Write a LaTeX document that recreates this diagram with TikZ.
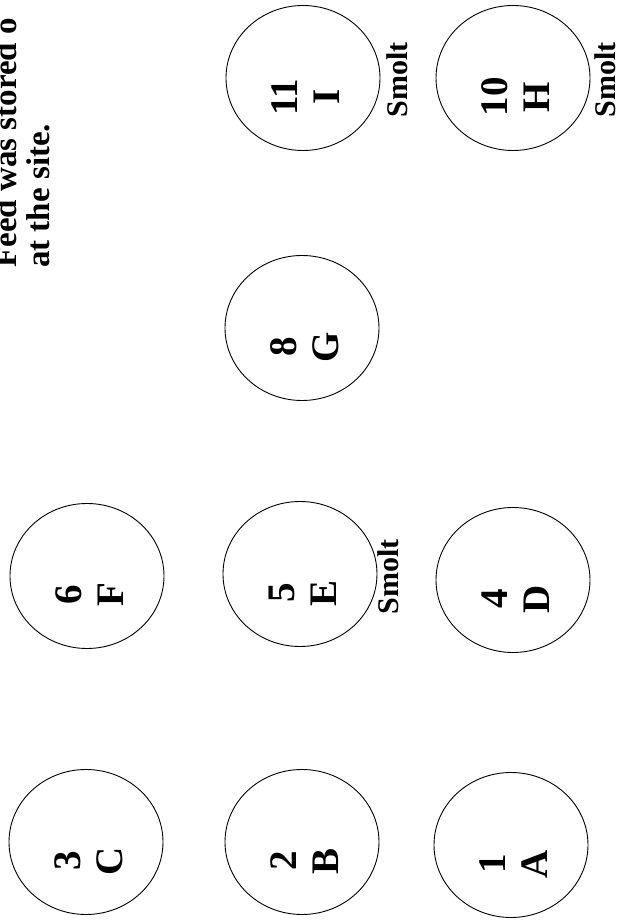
\documentclass[tikz,border=0pt]{standalone}
\usepackage{fontspec}
\setmainfont{Liberation Serif}
\usetikzlibrary{shapes.geometric}
\begin{document}
\begin{tikzpicture}[x=1pt,y=1pt,
  pond/.style={ellipse,draw,line width=0.9pt,minimum width=154pt,minimum height=145pt,inner sep=0pt},
  lbl/.style={rotate=90,font=\fontsize{39}{42}\selectfont\bfseries,align=center,inner sep=0pt},
  smolt/.style={rotate=90,font=\fontsize{30}{32}\selectfont\bfseries,inner sep=0pt},
  captxt/.style={rotate=90,anchor=base west,font=\fontsize{33}{33}\selectfont\bfseries,inner sep=0pt}]
\useasboundingbox (0,0) rectangle (623,922);
\clip (0,0) rectangle (623,922);
% ponds
\node[pond] (pC) at (86,80) {};
\node[pond] (pB) at (302,80) {};
\node[pond] (pA) at (511,77) {};
\node[pond] (pF) at (87,346) {};
\node[pond] (pE) at (300,348) {};
\node[pond] (pD) at (513,342) {};
\node[pond] (pG) at (302,594) {};
\node[pond] (pI) at (303,844) {};
\node[pond] (pH) at (513,844) {};
% labels
\node[lbl] (lC) at (89,61) {3\\C};
\node[lbl] (lB) at (305,61) {2\\B};
\node[lbl] (lA) at (514,58) {1\\A};
\node[lbl] (lF) at (90,327) {6\\F};
\node[lbl] (lE) at (303,329) {5\\E};
\node[lbl] (lD) at (516,323) {4\\D};
\node[lbl] (lG) at (305,575) {8\\G};
\node[lbl] (lI) at (306,825) {11\\I};
\node[lbl] (lH) at (516,825) {10\\H};
% smolt notes
\node[smolt] (sE) at (388,345) {Smolt};
\node[smolt] (sI) at (397,842) {Smolt};
\node[smolt] (sH) at (605,842) {Smolt};
% caption
\node[captxt] (cap1) at (17,654) {Feed was stored o};
\node[captxt] (cap2) at (50,654) {at the site.};
\end{tikzpicture}
\end{document}
